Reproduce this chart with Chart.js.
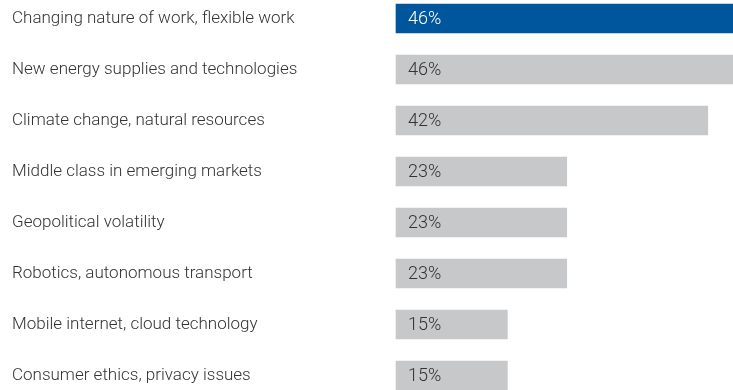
<!DOCTYPE html>
<html>
<head>
<meta charset="utf-8">
<script src="https://cdn.jsdelivr.net/npm/chart.js@4/dist/chart.umd.min.js"></script>
<style>
  html, body { margin: 0; padding: 0; background: #fff; }
  #wrap { width: 733px; height: 390px; position: relative; }
</style>
</head>
<body>
<div id="wrap"><canvas id="myChart"></canvas></div>
<script>
const categories = [
    'Changing nature of work, flexible work',
    'New energy supplies and technologies',
    'Climate change, natural resources',
    'Middle class in emerging markets',
    'Geopolitical volatility',
    'Robotics, autonomous transport',
    'Mobile internet, cloud technology',
    'Consumer ethics, privacy issues'
];
const values = [46, 46, 42, 23, 23, 23, 15, 15];
const valueLabels = ['46%', '46%', '42%', '23%', '23%', '23%', '15%', '15%'];

const FONT = "'Roboto', sans-serif";
const barColors = values.map((v, i) => i === 0 ? '#00569d' : '#c7c8ca');
const textColors = values.map((v, i) => i === 0 ? '#ffffff' : '#333333');

// percentage text inside each bar
const barText = {
    id: 'barText',
    afterDatasetsDraw(chart) {
        const ctx = chart.ctx;
        const meta = chart.getDatasetMeta(0);
        ctx.save();
        ctx.font = '300 18px ' + FONT;
        ctx.textBaseline = 'middle';
        ctx.textAlign = 'left';
        meta.data.forEach((bar, i) => {
            ctx.fillStyle = textColors[i];
            ctx.fillText(valueLabels[i], bar.base + 12, bar.y + 1);
        });
        ctx.restore();
    }
};

const data = {
    labels: categories,
    datasets: [{
        data: values,
        backgroundColor: barColors,
        barThickness: 29,
        clip: false
    }]
};

const config = {
    type: 'bar',
    data: data,
    options: {
        indexAxis: 'y',
        responsive: true,
        maintainAspectRatio: false,
        animation: false,
        layout: {
            padding: { left: 12, right: 0, top: 18.5, bottom: 14.5 }
        },
        plugins: {
            legend: { display: false },
            tooltip: { enabled: false }
        },
        scales: {
            x: {
                display: false,
                min: 0,
                max: 45.4
            },
            y: {
                offset: false,
                grid: { display: false },
                border: { display: false },
                afterFit(scale) { scale.width = 384; },
                ticks: {
                    crossAlign: 'far',
                    color: '#333333',
                    padding: 0,
                    font: { family: FONT, size: 17, weight: '300' }
                }
            }
        }
    },
    plugins: [barText]
};

const myChart = new Chart(document.getElementById('myChart'), config);
</script>
</body>
</html>
